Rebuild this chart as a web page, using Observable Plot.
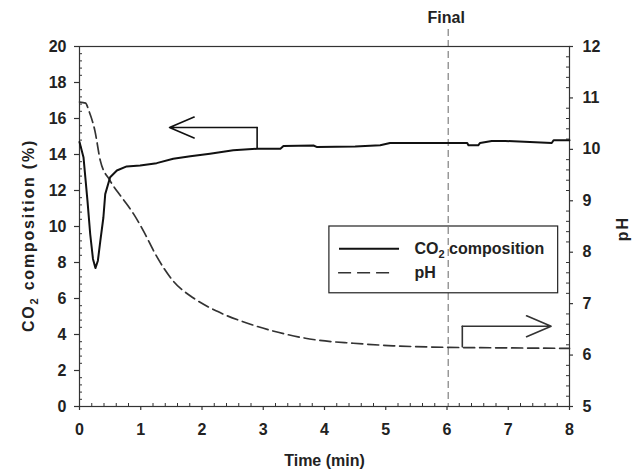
<!DOCTYPE html>
<html>
<head>
<meta charset="utf-8">
<script src="https://cdn.jsdelivr.net/npm/d3@7"></script>
<script src="https://cdn.jsdelivr.net/npm/@observablehq/plot@0.6"></script>
<style>
  html, body { margin: 0; padding: 0; background: #fff; }
</style>
</head>
<body>
<div id="chart"></div>
<script>
// ---- data ----
const co2Time  = [0, 0.065, 0.13, 0.175, 0.22, 0.26, 0.30, 0.34, 0.39, 0.42, 0.50, 0.61, 0.77, 0.99, 1.26, 1.53, 1.81, 2.13, 2.51, 2.90, 3.28, 3.33, 3.82, 3.88, 4.50, 4.91, 5.07, 6.33, 6.35, 6.51, 6.54, 6.73, 6.95, 7.71, 7.74, 8.0];
const co2Value = [14.69, 13.85, 11.44, 9.57, 8.2, 7.69, 8.1, 9.2, 10.5, 11.8, 12.74, 13.11, 13.34, 13.39, 13.52, 13.76, 13.9, 14.04, 14.23, 14.32, 14.32, 14.47, 14.5, 14.41, 14.45, 14.51, 14.64, 14.64, 14.51, 14.51, 14.64, 14.75, 14.75, 14.64, 14.79, 14.79];

const phTime  = [0, 0.1, 0.15, 0.25, 0.34, 0.5, 0.7, 0.88, 1.05, 1.24, 1.53, 1.86, 2.25, 2.79, 3.39, 3.89, 4.47, 5.12, 6.02, 7.0, 8.0];
const phValue = [10.92, 10.9, 10.76, 10.37, 9.78, 9.39, 9.05, 8.75, 8.4, 7.96, 7.44, 7.11, 6.85, 6.60, 6.40, 6.29, 6.23, 6.18, 6.15, 6.14, 6.13];

const timeTicks = [0, 1, 2, 3, 4, 5, 6, 7, 8];
const co2Ticks  = [0, 2, 4, 6, 8, 10, 12, 14, 16, 18, 20];
const phTicks   = [5, 6, 7, 8, 9, 10, 11, 12];

const finalTime  = 6.02;
const finalLabel = "Final";

const co2ArrowBase = [2.9, 14.36], co2ArrowCorner = [2.9, 15.5], co2ArrowTip = [1.47, 15.5];
const phArrowBase  = [6.25, 6.16], phArrowCorner  = [6.25, 6.56], phArrowTip  = [7.70, 6.56];

const legendLabels = ["CO2 composition", "pH"];
const xTitle = "Time (min)";
const yTitle = "CO2 composition (%)";
const y2Title = "pH";

// ---- helpers ----
const phToLeft = p => (p - 5) * 20 / 7;   // right axis (pH 5..12) onto left scale (0..20)
const co2Data = co2Time.map((t, i) => ({t, v: co2Value[i]}));
const phData  = phTime.map((t, i) => ({t, v: phToLeft(phValue[i])}));

const timeMinor = d3.range(0, 41).map(i => i * 0.2).filter((_, i) => i % 5 !== 0);
const leftMinor = d3.range(0, 51).map(i => i * 0.4).filter((_, i) => i % 5 !== 0);
const rightMajor = phTicks.map(phToLeft);
const rightMinor = d3.range(0, 36).map(i => phToLeft(5 + i * 0.2)).filter((_, i) => i % 5 !== 0);

const ink = "#222";
const axisInk = "#333";

const chart = Plot.plot({
  width: 642,
  height: 471,
  marginLeft: 79,
  marginRight: 73,
  marginTop: 46,
  marginBottom: 65,
  x: {domain: [0, 8]},
  y: {domain: [0, 20]},
  style: {
    fontFamily: "'Liberation Sans', Arial, sans-serif",
    fontSize: "16px",
    fontWeight: "bold",
    color: ink,
    background: "#fff",
    overflow: "visible"
  },
  marks: [
    // Final marker
    Plot.ruleX([finalTime], {y1: 20, y2: 0, insetTop: -17, stroke: "#8a8a8a", strokeWidth: 1.3, strokeDasharray: "7,4"}),
    Plot.text([finalLabel], {x: finalTime, frameAnchor: "top", dy: -29, dx: -2, textAnchor: "middle", lineAnchor: "middle", fill: ink, fontSize: 16}),

    // frame & axis labels
    Plot.frame({stroke: axisInk, strokeWidth: 1.2}),
    Plot.axisY(co2Ticks, {anchor: "left", tickSize: 0, tickPadding: 13, label: null, fill: ink}),
    Plot.axisY(rightMajor, {anchor: "right", tickSize: 0, tickPadding: 13, label: null, fill: ink,
      tickFormat: d => String(Math.round(5 + d * 7 / 20))}),
    Plot.axisX(timeTicks, {anchor: "bottom", tickSize: 0, tickPadding: 17, label: null, fill: ink}),

    // tick marks: major outward, minor inward
    Plot.ruleY(co2Ticks, {x1: 0, x2: 0, insetLeft: -5, stroke: axisInk, strokeWidth: 1.2}),
    Plot.ruleY(leftMinor, {x1: 0, x2: 0, insetRight: -3, stroke: axisInk, strokeWidth: 1}),
    Plot.ruleY(rightMajor, {x1: 8, x2: 8, insetRight: -4, stroke: axisInk, strokeWidth: 1.2}),
    Plot.ruleY(rightMinor, {x1: 8, x2: 8, insetLeft: -3, stroke: axisInk, strokeWidth: 1}),
    Plot.ruleX(timeTicks, {y1: 0, y2: 0, insetBottom: -4, stroke: axisInk, strokeWidth: 1.2}),
    Plot.ruleX(timeMinor, {y1: 0, y2: 0, insetTop: -3, stroke: axisInk, strokeWidth: 1}),

    // data
    Plot.line(phData, {x: "t", y: "v", stroke: "#333", strokeWidth: 1.7, strokeDasharray: "11,5", curve: "monotone-x"}),
    Plot.line(co2Data, {x: "t", y: "v", stroke: "#111", strokeWidth: 2, curve: "linear"}),

    // arrows
    Plot.line([co2ArrowBase, co2ArrowCorner], {x: d => d[0], y: d => d[1], stroke: "#111", strokeWidth: 1.6}),
    Plot.arrow([[co2ArrowCorner, co2ArrowTip]], {x1: d => d[0][0], y1: d => d[0][1], x2: d => d[1][0], y2: d => d[1][1],
      stroke: "#111", strokeWidth: 1.6, headLength: 25, headAngle: 46}),
    Plot.line([phArrowBase, phArrowCorner], {x: d => d[0], y: d => phToLeft(d[1]), stroke: "#333", strokeWidth: 1.6}),
    Plot.arrow([[phArrowCorner, phArrowTip]], {x1: d => d[0][0], y1: d => phToLeft(d[0][1]), x2: d => d[1][0], y2: d => phToLeft(d[1][1]),
      stroke: "#333", strokeWidth: 1.6, headLength: 25, headAngle: 46}),

    // legend
    Plot.rect([0], {x1: 4.08, x2: 7.815, y1: 6.29, y2: 10.0, fill: "none", stroke: ink, strokeWidth: 1.2}),
    Plot.ruleY([8.76], {x1: 4.245, x2: 5.225, stroke: "#111", strokeWidth: 2}),
    Plot.ruleY([7.43], {x1: 4.23, x2: 5.10, stroke: "#333", strokeWidth: 1.7, strokeDasharray: "13,6"}),
    Plot.text(legendLabels, {x: 5.47, y: (d, i) => [8.76, 7.43][i], textAnchor: "start", lineAnchor: "middle", fill: ink, fontSize: 16}),

    // axis titles
    Plot.text([xTitle], {frameAnchor: "bottom", dy: 54, textAnchor: "middle", lineAnchor: "middle", fill: ink, fontSize: 16}),
    Plot.text([yTitle], {frameAnchor: "left", dx: -51, dy: 9, rotate: -90, textAnchor: "middle", lineAnchor: "middle", fill: ink, fontSize: 16}),
    Plot.text([y2Title], {frameAnchor: "right", dx: 53, dy: 2, rotate: -90, textAnchor: "middle", lineAnchor: "middle", fill: ink, fontSize: 16})
  ]
});

// subscripts for CO2 and letter spacing for rotated titles
d3.select(chart).selectAll("text").each(function() {
  const el = d3.select(this);
  const txt = this.textContent;
  if (txt.startsWith("CO2")) {
    const rest = txt.slice(3);
    el.text(null);
    el.append("tspan").text("CO");
    el.append("tspan").attr("dy", 4).attr("font-size", "11px").text("2");
    el.append("tspan").attr("dy", -4).text(rest);
  }
  if (txt === yTitle) el.style("letter-spacing", "1.8px");
  if (txt === y2Title && this.getAttribute("transform") && this.getAttribute("transform").includes("rotate")) el.style("letter-spacing", "2px");
});

document.getElementById("chart").appendChild(chart);
</script>
</body>
</html>
